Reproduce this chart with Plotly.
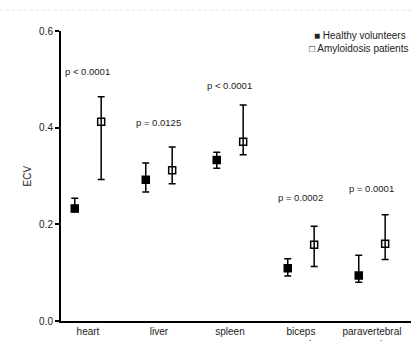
import plotly.graph_objects as go

categories = ["heart", "liver", "spleen", "biceps<br>muscle", "paravertebral<br>muscle"]
healthy_mean = [0.233, 0.292, 0.333, 0.109, 0.094]
healthy_upper = [0.254, 0.327, 0.349, 0.129, 0.136]
healthy_lower = [0.226, 0.267, 0.316, 0.093, 0.080]
amyloid_mean = [0.412, 0.312, 0.371, 0.158, 0.160]
amyloid_upper = [0.464, 0.360, 0.447, 0.196, 0.220]
amyloid_lower = [0.293, 0.284, 0.344, 0.113, 0.127]
p_labels = ["p < 0.0001", "p = 0.0125", "p < 0.0001", "p = 0.0002", "p = 0.0001"]
p_label_y = [0.516, 0.411, 0.488, 0.256, 0.274]
y_ticks = [0.0, 0.2, 0.4, 0.6]

offset = 0.186
idx = list(range(len(categories)))
FONT = "Liberation Sans, Arial, sans-serif"

fig = go.Figure()

def add_series(means, upper, lower, shift, fill, name):
    fig.add_trace(go.Scatter(
        x=[i + shift for i in idx], y=means, mode="markers", name=name,
        marker=dict(symbol="square", size=7, color=fill,
                    line=dict(color="black", width=1.5)),
        error_y=dict(type="data", symmetric=False,
                     array=[u - m for u, m in zip(upper, means)],
                     arrayminus=[m - l for m, l in zip(means, lower)],
                     color="black", thickness=1.5, width=3.5),
        showlegend=False,
    ))

add_series(healthy_mean, healthy_upper, healthy_lower, -offset, "black", "Healthy volunteers")
add_series(amyloid_mean, amyloid_upper, amyloid_lower, offset, "rgba(0,0,0,0)", "Amyloidosis patients")

for i, (t, y) in enumerate(zip(p_labels, p_label_y)):
    fig.add_annotation(x=i, y=y, text=t, showarrow=False, xref="x", yref="y",
                       font=dict(family=FONT, size=9.5, color="#222"))

# legend as text
fig.add_annotation(x=0.99, y=0.983, xref="paper", yref="paper", xanchor="right", yanchor="middle",
                   text="■ Healthy volunteers", showarrow=False,
                   font=dict(family=FONT, size=10, color="#222"))
fig.add_annotation(x=0.997, y=0.938, xref="paper", yref="paper", xanchor="right", yanchor="middle",
                   text="□ Amyloidosis patients", showarrow=False,
                   font=dict(family=FONT, size=10, color="#222"))

fig.add_annotation(x=-0.12, y=0.5, xref="paper", yref="paper", text="ECV", textangle=-90,
                   showarrow=False, font=dict(family=FONT, size=10, color="#222"))

fig.add_shape(type="line", xref="paper", yref="paper", x0=-0.175, x1=1.0, y0=1.072, y1=1.072,
              line=dict(color="#e4e4e4", width=1, dash="dot"))

fig.update_layout(
    width=411, height=341,
    margin=dict(l=61, r=0, t=31, b=20, autoexpand=False),
    plot_bgcolor="white", paper_bgcolor="white",
    font=dict(family=FONT, size=10, color="#222"),
    xaxis=dict(range=[-0.38, 4.55], tickmode="array", tickvals=idx, ticktext=categories,
               showline=True, linecolor="black", linewidth=2, showgrid=False, zeroline=False,
               ticks="", tickfont=dict(size=10), automargin=False),
    yaxis=dict(range=[0, 0.6], tickmode="array", tickvals=y_ticks,
               ticktext=[f"{v:.1f}" for v in y_ticks],
               showline=True, linecolor="black", linewidth=2, showgrid=False, zeroline=False,
               ticks="outside", ticklen=4, tickwidth=1.5, tickcolor="black", tickfont=dict(size=10),
               automargin=False),
)

fig.write_html("out.html", config={"displayModeBar": False},
               post_script="document.body.style.margin='0';document.body.style.overflow='hidden';")
